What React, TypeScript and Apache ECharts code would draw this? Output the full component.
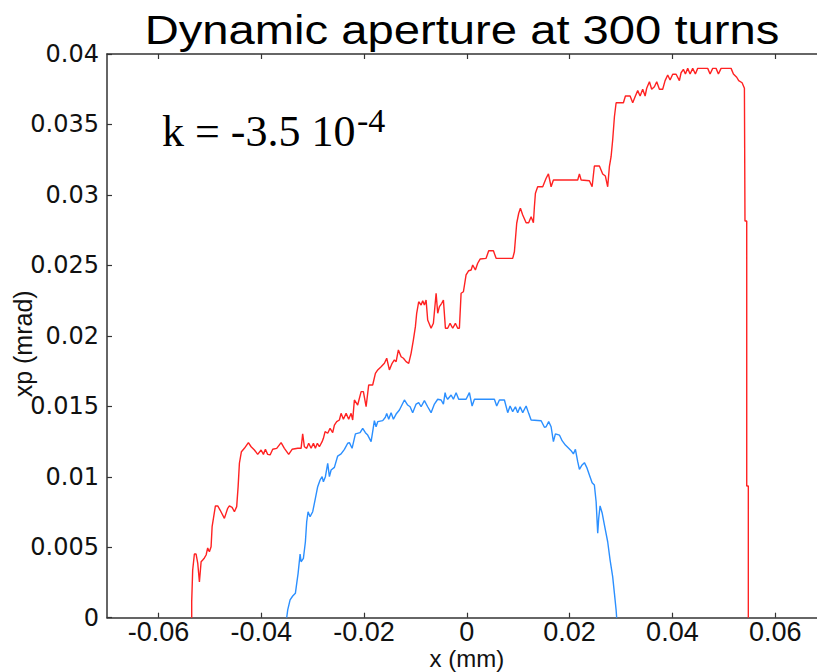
import React, { useEffect, useRef } from "react";
import * as echarts from "echarts";

const X_TICKS = [-0.06, -0.04, -0.02, 0, 0.02, 0.04, 0.06];

const RED_X = [-0.05352,-0.05352,-0.05333,-0.05300,-0.05267,-0.05235,-0.05202,-0.05169,-0.05138,-0.05105,
-0.05072,-0.05041,-0.05008,-0.04975,-0.04955,-0.04924,-0.04891,-0.04846,-0.04800,-0.04716,
-0.04652,-0.04619,-0.04566,-0.04521,-0.04477,-0.04449,-0.04424,-0.04385,-0.04327,-0.04249,
-0.04196,-0.04132,-0.04068,-0.04002,-0.03957,-0.03918,-0.03874,-0.03827,-0.03776,-0.03698,
-0.03613,-0.03549,-0.03465,-0.03399,-0.03290,-0.03224,-0.03193,-0.03160,-0.03115,-0.03076,
-0.03029,-0.02984,-0.02946,-0.02907,-0.02868,-0.02815,-0.02790,-0.02757,-0.02706,-0.02660,
-0.02609,-0.02576,-0.02531,-0.02479,-0.02446,-0.02401,-0.02348,-0.02298,-0.02251,-0.02220,
-0.02187,-0.02123,-0.02056,-0.02012,-0.01959,-0.01909,-0.01831,-0.01778,-0.01733,-0.01667,
-0.01603,-0.01558,-0.01506,-0.01453,-0.01409,-0.01375,-0.01331,-0.01278,-0.01233,-0.01181,
-0.01130,-0.01084,-0.01039,-0.01000,-0.00975,-0.00936,-0.00889,-0.00858,-0.00825,-0.00792,
-0.00761,-0.00695,-0.00650,-0.00597,-0.00566,-0.00533,-0.00488,-0.00455,-0.00416,-0.00372,
-0.00325,-0.00274,-0.00222,-0.00177,-0.00144,-0.00111,-0.00066,-0.00014,0.00037,0.00084,
0.00115,0.00167,0.00212,0.00259,0.00375,0.00426,0.00518,0.00570,0.00893,0.00926,
0.00971,0.01010,0.01043,0.01088,0.01154,0.01204,0.01251,0.01296,0.01315,0.01335,
0.01379,0.01477,0.01543,0.01588,0.01640,0.01685,0.02158,0.02191,0.02224,0.02385,
0.02438,0.02482,0.02580,0.02644,0.02696,0.02741,0.02774,0.02807,0.02838,0.02872,
0.02905,0.03047,0.03086,0.03177,0.03228,0.03280,0.03325,0.03372,0.03422,0.03469,
0.03500,0.03553,0.03597,0.03650,0.03695,0.03747,0.03811,0.03858,0.03909,0.03955,
0.04006,0.04072,0.04136,0.04169,0.04214,0.04253,0.04298,0.04344,0.04395,0.04447,
0.04492,0.04687,0.04733,0.04784,0.04850,0.04895,0.04947,0.05142,0.05187,0.05251,
0.05290,0.05356,0.05401,0.05412,0.05446,0.05446,0.05477,0.05477];

const RED_Y = [0,0.00114,0.00338,0.00452,0.00452,0.00388,0.00253,0.00397,0.00409,0.00424,
0.00445,0.00495,0.00468,0.00504,0.00646,0.00717,0.00793,0.00793,0.00764,0.00705,
0.00776,0.00793,0.00783,0.00752,0.00788,0.00930,0.01096,0.01178,0.01202,0.01242,
0.01213,0.01190,0.01159,0.01190,0.01159,0.01195,0.01159,0.01155,0.01195,0.01202,
0.01242,0.01202,0.01159,0.01195,0.01202,0.01202,0.01304,0.01213,0.01202,0.01238,
0.01202,0.01238,0.01202,0.01238,0.01213,0.01249,0.01273,0.01320,0.01309,0.01344,
0.01313,0.01367,0.01391,0.01403,0.01450,0.01408,0.01450,0.01408,0.01450,0.01403,
0.01545,0.01509,0.01604,0.01604,0.01497,0.01651,0.01651,0.01734,0.01758,0.01781,
0.01805,0.01841,0.01758,0.01805,0.01829,0.01817,0.01900,0.01852,0.01841,0.01817,
0.01805,0.01876,0.01971,0.02065,0.02160,0.02242,0.02219,0.02249,0.02219,0.02254,
0.02112,0.02054,0.02089,0.02302,0.02160,0.02207,0.02231,0.02254,0.02054,0.02054,
0.02089,0.02054,0.02089,0.02054,0.02054,0.02302,0.02313,0.02432,0.02462,0.02467,
0.02503,0.02467,0.02515,0.02545,0.02550,0.02604,0.02604,0.02550,0.02550,0.02597,
0.02799,0.02870,0.02905,0.02858,0.02803,0.02803,0.02845,0.02803,0.02916,0.03012,
0.03058,0.03058,0.03118,0.03149,0.03058,0.03106,0.03106,0.03149,0.03106,0.03101,
0.03058,0.03205,0.03205,0.03149,0.03134,0.03058,0.03200,0.03271,0.03390,0.03555,
0.03654,0.03654,0.03702,0.03702,0.03654,0.03702,0.03740,0.03702,0.03750,0.03702,
0.03757,0.03803,0.03750,0.03768,0.03803,0.03750,0.03750,0.03811,0.03851,0.03816,
0.03856,0.03856,0.03811,0.03867,0.03891,0.03858,0.03898,0.03858,0.03898,0.03858,
0.03898,0.03898,0.03858,0.03898,0.03898,0.03858,0.03898,0.03898,0.03858,0.03835,
0.03811,0.03796,0.03757,0.02815,0.02815,0.00935,0.00935,0];

const BLUE_X = [-0.03504,-0.03484,-0.03438,-0.03387,-0.03335,-0.03309,-0.03282,-0.03243,-0.03224,-0.03179,
-0.03140,-0.03115,-0.03088,-0.03049,-0.02998,-0.02946,-0.02901,-0.02854,-0.02815,-0.02790,
-0.02751,-0.02706,-0.02673,-0.02640,-0.02576,-0.02512,-0.02446,-0.02381,-0.02317,-0.02284,
-0.02232,-0.02167,-0.02076,-0.02025,-0.01973,-0.01928,-0.01862,-0.01831,-0.01798,-0.01765,
-0.01733,-0.01636,-0.01584,-0.01558,-0.01519,-0.01473,-0.01428,-0.01375,-0.01311,-0.01214,
-0.01150,-0.01103,-0.01053,-0.00986,-0.00936,-0.00889,-0.00825,-0.00761,-0.00695,-0.00630,
-0.00566,-0.00500,-0.00455,-0.00422,-0.00403,-0.00372,-0.00305,-0.00261,-0.00208,-0.00158,
-0.00014,0.00051,0.00103,0.00148,0.00537,0.00582,0.00634,0.00732,0.00796,0.00842,
0.00893,0.00946,0.00990,0.01037,0.01088,0.01154,0.01204,0.01251,0.01446,0.01510,
0.01543,0.01593,0.01640,0.01685,0.01724,0.01802,0.01854,0.01918,0.01982,0.02029,
0.02074,0.02113,0.02158,0.02191,0.02243,0.02288,0.02333,0.02385,0.02438,0.02482,
0.02516,0.02547,0.02566,0.02593,0.02632,0.02677,0.02741,0.02788,0.02838,0.02872,
0.02905,0.02916];

const BLUE_Y = [0,0.00055,0.00126,0.00154,0.00173,0.00244,0.00315,0.00452,0.00397,0.00421,
0.00539,0.00681,0.00752,0.00717,0.00752,0.00847,0.00930,0.00977,0.01001,0.00965,
0.01001,0.01096,0.01001,0.01048,0.01067,0.01147,0.01162,0.01195,0.01238,0.01242,
0.01202,0.01304,0.01313,0.01344,0.01313,0.01296,0.01249,0.01320,0.01398,0.01355,
0.01391,0.01398,0.01422,0.01450,0.01408,0.01455,0.01408,0.01445,0.01474,0.01545,
0.01509,0.01497,0.01455,0.01516,0.01526,0.01497,0.01540,0.01497,0.01455,0.01516,
0.01550,0.01545,0.01516,0.01597,0.01568,0.01550,0.01580,0.01550,0.01597,0.01550,
0.01550,0.01597,0.01502,0.01550,0.01550,0.01502,0.01545,0.01545,0.01455,0.01502,
0.01462,0.01497,0.01455,0.01497,0.01455,0.01502,0.01450,0.01403,0.01398,0.01351,
0.01355,0.01391,0.01355,0.01249,0.01304,0.01296,0.01256,0.01225,0.01202,0.01185,
0.01162,0.01195,0.01107,0.01053,0.01084,0.01100,0.01067,0.01013,0.00958,0.00942,
0.00823,0.00599,0.00705,0.00793,0.00745,0.00658,0.00539,0.00409,0.00291,0.00173,
0.00055,0];

const zip = (xs: number[], ys: number[]) => {
  const n = Math.min(xs.length, ys.length);
  const out: number[][] = [];
  for (let i = 0; i < n; i++) out.push([xs[i], ys[i]]);
  return out;
};

const AXIS_COLOR = "#333333";
const SANS = "'Liberation Sans', Arial, sans-serif";
const SERIF = "'Liberation Serif', 'Times New Roman', serif";

export default function App() {
  const ref = useRef<HTMLDivElement>(null);
  useEffect(() => {
    if (!ref.current) return;
    const chart = echarts.init(ref.current, undefined, { renderer: "svg" });
    const tickCommon = {
      show: true,
      inside: true,
      length: 5,
      customValues: X_TICKS,
      lineStyle: { color: AXIS_COLOR, width: 1.2 },
    };
    chart.setOption({
      animation: false,
      backgroundColor: "#ffffff",
      grid: {
        left: 107,
        top: 54,
        width: 719.6,
        height: 563.7,
        containLabel: false,
        outerBoundsMode: "none",
      },
      xAxis: [
        {
          type: "value",
          min: -0.07,
          max: 0.07,
          position: "bottom",
          axisLine: { show: true, onZero: false, lineStyle: { color: AXIS_COLOR, width: 1.5 } },
          axisTick: tickCommon,
          splitLine: { show: false },
          axisLabel: {
            customValues: X_TICKS,
            margin: 1,
            color: "#111",
            fontSize: 27,
            fontFamily: SANS,
            formatter: (v: number) => String(+v.toFixed(2)),
          },
          name: "x (mm)",
          nameLocation: "middle",
          nameGap: 28.5,
          nameMoveOverlap: false,
          nameTextStyle: { fontSize: 24, fontFamily: SANS, color: "#111" },
        },
        {
          type: "value",
          min: -0.07,
          max: 0.07,
          position: "top",
          axisLine: { show: true, onZero: false, lineStyle: { color: AXIS_COLOR, width: 1.5 } },
          axisTick: tickCommon,
          splitLine: { show: false },
          axisLabel: { show: false },
        },
      ],
      yAxis: {
        type: "value",
        min: 0,
        max: 0.04,
        interval: 0.005,
        position: "left",
        axisLine: { show: true, onZero: false, lineStyle: { color: AXIS_COLOR, width: 1.5 } },
        axisTick: { show: true, inside: true, length: 5, lineStyle: { color: AXIS_COLOR, width: 1.2 } },
        splitLine: { show: false },
        axisLabel: {
          margin: 8,
          color: "#111",
          fontSize: 24,
          fontFamily: "'DejaVu Sans', sans-serif",
          formatter: (v: number) => String(+v.toFixed(3)),
        },
        name: "xp (mrad)",
        nameLocation: "middle",
        nameGap: 72,
        nameMoveOverlap: false,
        nameTextStyle: { fontSize: 25, fontFamily: SANS, color: "#111", padding: [0, 16, 0, 0] },
      },
      graphic: [
        {
          type: "text",
          x: 462,
          y: 30,
          scaleX: 1.18,
          style: {
            text: "Dynamic aperture at 300 turns",
            x: 0,
            y: 0,
            fontSize: 40,
            fontFamily: SANS,
            fill: "#000",
            align: "center",
            verticalAlign: "middle",
          },
        },
        {
          type: "text",
          x: 162,
          y: 131,
          style: {
            text: "k = -3.5 10",
            fontSize: 44,
            fontFamily: SERIF,
            fill: "#000",
            align: "left",
            verticalAlign: "middle",
          },
        },
        {
          type: "text",
          x: 357,
          y: 120,
          style: {
            text: "-4",
            fontSize: 34,
            fontFamily: SERIF,
            fill: "#000",
            align: "left",
            verticalAlign: "middle",
          },
        },
      ],
      series: [
        {
          type: "line",
          data: zip(RED_X, RED_Y),
          showSymbol: false,
          symbol: "none",
          lineStyle: { color: "#ff2222", width: 1.4 },
          itemStyle: { color: "#ff2222" },
          silent: true,
        },
        {
          type: "line",
          data: zip(BLUE_X, BLUE_Y),
          showSymbol: false,
          symbol: "none",
          lineStyle: { color: "#2b8fff", width: 1.4 },
          itemStyle: { color: "#2b8fff" },
          silent: true,
        },
      ],
    });
    return () => chart.dispose();
  }, []);
  return (
    <div
      style={{
        position: "fixed",
        left: 0,
        top: 0,
        width: 817,
        height: 672,
        overflow: "hidden",
        background: "#fff",
      }}
    >
      <div ref={ref} style={{ width: 850, height: 672 }} />
    </div>
  );
}
